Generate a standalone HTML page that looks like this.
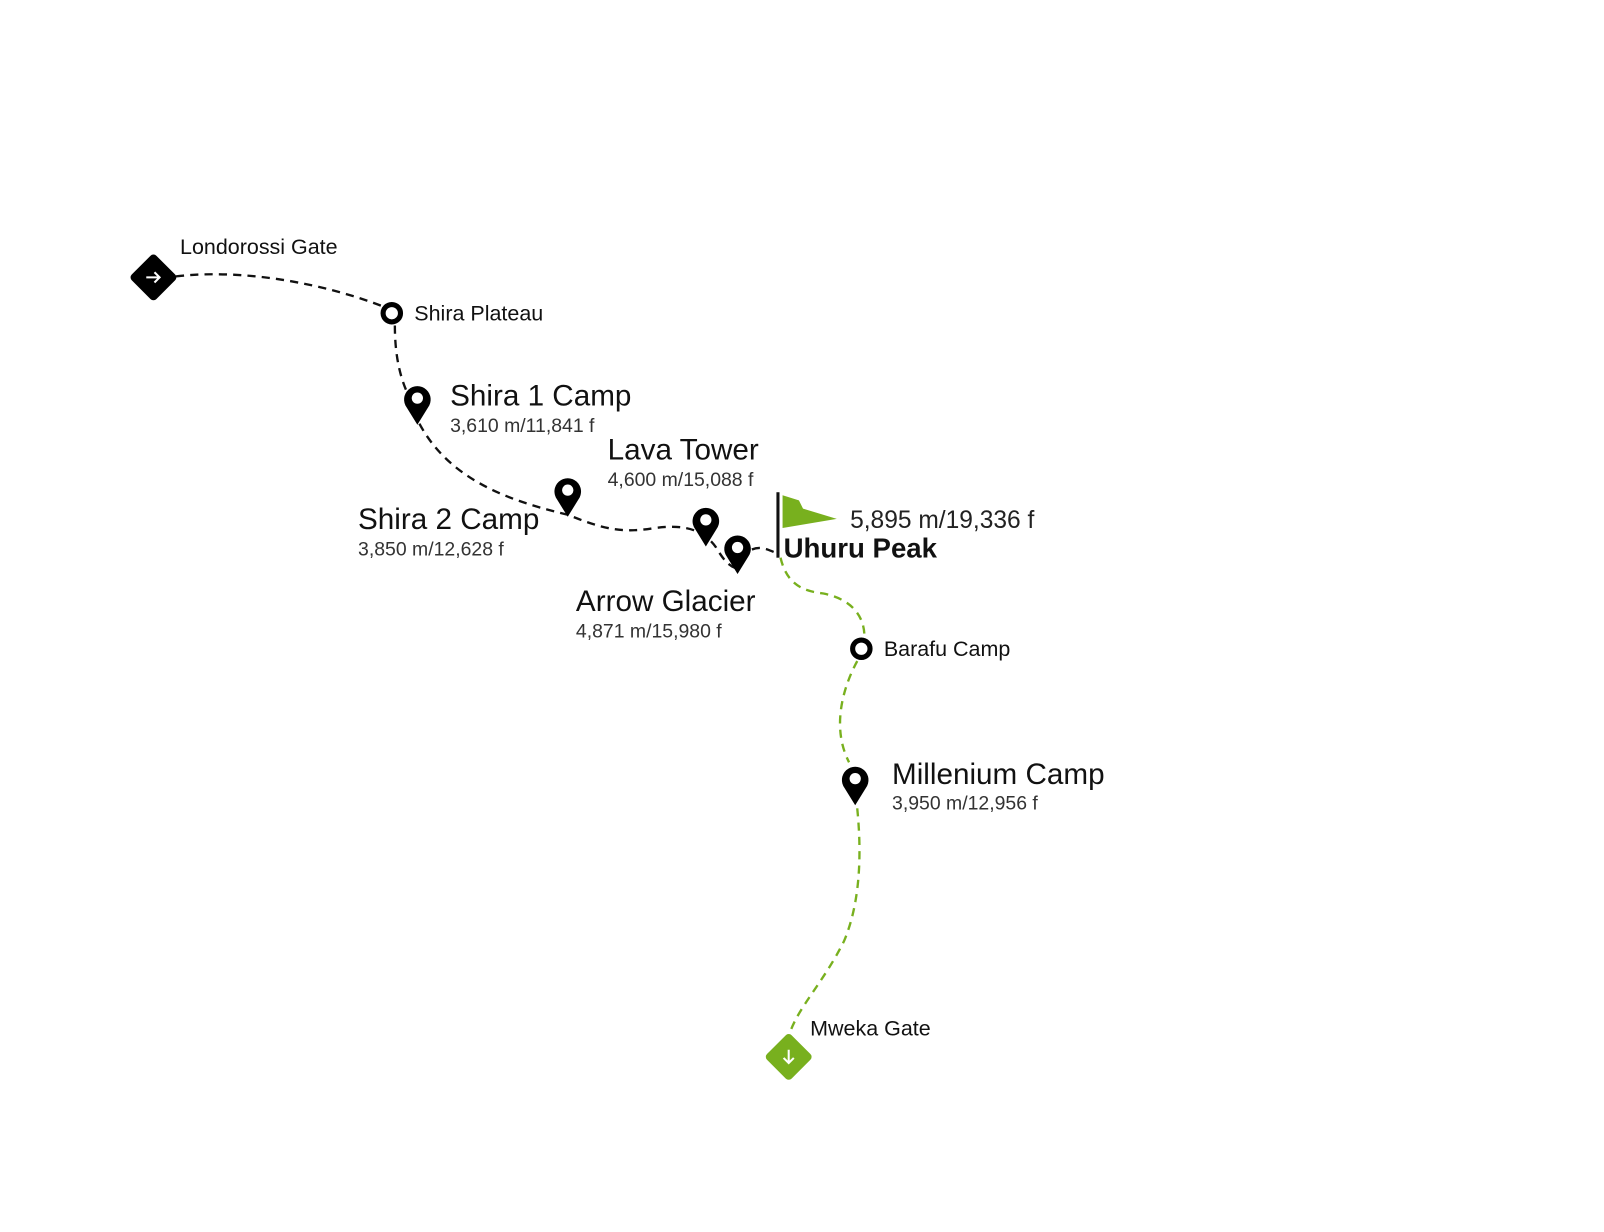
<!DOCTYPE html>
<html><head><meta charset="utf-8"><style>
html,body{margin:0;padding:0;background:#fff;}
svg{display:block;}
text{font-family:"Liberation Sans",sans-serif;}
</style></head><body>
<svg width="1604" height="1232" viewBox="0 0 1568 1204" xmlns="http://www.w3.org/2000/svg">
<defs>
<g id="pin"><path d="M0,23 L-10.5,6 A13,13 0 1 1 10.5,6 Z" fill="#000"/><circle cx="0" cy="-3" r="5.5" fill="#fff"/></g>
</defs>
<g fill="none" stroke="#111" stroke-width="2.3" stroke-dasharray="8,6">
<path d="M172,270 C240,262 320,278 376,300"/>
<path d="M386,318 C386,350 392,375 404,395"/>
<path d="M410,414 C440,470 500,490 555,503 C585,515 605,522 640,516 C670,512 688,518 700,535 C706,545 712,554 722,556"/>
<path d="M735,537 C745,533 752,538 758,540"/>
</g>
<g fill="none" stroke="#78b01e" stroke-width="2.3" stroke-dasharray="8,6">
<path d="M763,545 C770,575 790,578 805,580 C830,585 845,600 845,622"/>
<path d="M838,646 C825,670 812,710 830,745"/>
<path d="M838,790 C842,830 842,880 825,920 C805,960 780,985 772,1010"/>
</g>
<rect x="133" y="254" width="34" height="34" rx="4" fill="#000" transform="rotate(45 150 271)"/>
<path d="M143,271 H156 M151,266 L156,271 L151,276" stroke="#fff" stroke-width="2" fill="none"/>
<text x="176" y="248" font-size="21" fill="#111">Londorossi Gate</text>
<circle cx="383" cy="306" r="8.5" fill="#fff" stroke="#000" stroke-width="5"/>
<text x="405" y="313" font-size="21" fill="#111">Shira Plateau</text>
<use href="#pin" x="408" y="392"/>
<use href="#pin" x="555" y="482"/>
<use href="#pin" x="690" y="511"/>
<use href="#pin" x="721" y="538"/>
<use href="#pin" x="836" y="764"/>
<text x="440" y="396" font-size="29" fill="#111">Shira 1 Camp</text>
<text x="440" y="422" font-size="19" fill="#333">3,610 m/11,841 f</text>
<text x="594" y="449" font-size="29" fill="#111">Lava Tower</text>
<text x="594" y="475" font-size="19" fill="#333">4,600 m/15,088 f</text>
<text x="350" y="517" font-size="29" fill="#111">Shira 2 Camp</text>
<text x="350" y="543" font-size="19" fill="#333">3,850 m/12,628 f</text>
<text x="563" y="597" font-size="29" fill="#111">Arrow Glacier</text>
<text x="563" y="623" font-size="19" fill="#333">4,871 m/15,980 f</text>
<rect x="759" y="481" width="3" height="64" fill="#111"/>
<polygon points="765,484 781,489 785,497 818,507 765,516" fill="#78b01e"/>
<text x="831" y="516" font-size="24" fill="#222">5,895 m/19,336 f</text>
<text x="766" y="545" font-size="27" font-weight="bold" fill="#111">Uhuru Peak</text>
<circle cx="842" cy="634" r="8.5" fill="#fff" stroke="#000" stroke-width="5"/>
<text x="864" y="641" font-size="21" fill="#111">Barafu Camp</text>
<text x="872" y="766" font-size="29" fill="#111">Millenium Camp</text>
<text x="872" y="791" font-size="19" fill="#333">3,950 m/12,956 f</text>
<rect x="754" y="1016" width="34" height="34" rx="4" fill="#78b01e" transform="rotate(45 771 1033)"/>
<path d="M771,1026 V1039 M766,1034 L771,1039 L776,1034" stroke="#fff" stroke-width="2" fill="none"/>
<text x="792" y="1012" font-size="21" fill="#111">Mweka Gate</text>
</svg>
</body></html>
